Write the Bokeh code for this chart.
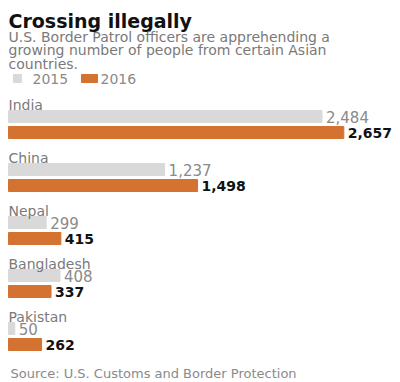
from bokeh.plotting import figure
from bokeh.models import Range1d, ColumnDataSource
from bokeh.core.properties import value
from bokeh.embed import file_html
from bokeh.resources import INLINE

# ---- data ----
countries = ["India", "China", "Nepal", "Bangladesh", "Pakistan"]
values_2015 = [2484, 1237, 299, 408, 50]
values_2016 = [2657, 1498, 415, 337, 262]
years = ["2015", "2016"]
title_text = "Crossing illegally"
subtitle_lines = [
    "U.S. Border Patrol officers are apprehending a",
    "growing number of people from certain Asian",
    "countries.",
]
source_text = "Source: U.S. Customs and Border Protection"

# ---- style / layout ----
W, H = 400, 382
PX_PER_UNIT = 0.1262
LEFT = 8
FONT = "DejaVu Sans"
GRAY = "#d9d9d9"
ORANGE = "#d37231"
LABEL_GRAY = "#7a7a7a"
VALUE_GRAY = "#8a8a8a"
GROUP_TOP0 = 110
GROUP_STEP = 53
BAR_H = 12
BAR_GAP = 4

p = figure(width=W, height=H, output_backend="svg", toolbar_location=None,
           x_range=Range1d(-LEFT / PX_PER_UNIT, (W - LEFT) / PX_PER_UNIT),
           y_range=Range1d(H, 0),
           min_border=0, min_border_left=0, min_border_right=0,
           min_border_top=0, min_border_bottom=0)
p.axis.visible = False
p.grid.visible = False
p.outline_line_color = None
p.background_fill_color = "white"
p.border_fill_color = "white"
p.extra_x_ranges = {"px": Range1d(0, W)}

tops = [GROUP_TOP0 + i * GROUP_STEP for i in range(len(countries))]
y15 = [t + BAR_H / 2 for t in tops]
y16 = [t + BAR_H + BAR_GAP + BAR_H / 2 for t in tops]
ylab = [t - 6 for t in tops]

src = ColumnDataSource(dict(
    country=countries, v15=values_2015, v16=values_2016,
    l15=[f"{v:,}" for v in values_2015], l16=[f"{v:,}" for v in values_2016],
    y15=y15, y16=y16, ylab=ylab, zero=[0] * len(countries)))

p.hbar(y="y15", left=0, right="v15", height=BAR_H, color=GRAY, source=src)
p.hbar(y="y16", left=0, right="v16", height=BAR_H, color=ORANGE, source=src)

p.text(x="v15", y="y15", text="l15", source=src, x_offset=4,
       text_font=value(FONT), text_font_size="15px", text_color=VALUE_GRAY,
       text_baseline="middle", text_align="left")
p.text(x="v16", y="y16", text="l16", source=src, x_offset=4,
       text_font=value(FONT), text_font_size="14px", text_font_style="bold",
       text_color="#111111", text_baseline="middle", text_align="left")
p.text(x="zero", y="ylab", text="country", source=src,
       text_font=value(FONT), text_font_size="14px", text_color=LABEL_GRAY,
       text_baseline="alphabetic", text_align="left")

# title / subtitle
p.text(x=[8], y=[20], text=[title_text], x_range_name="px",
       text_font=value(FONT), text_font_size="19px", text_font_style="bold",
       text_color="#111111", text_baseline="alphabetic")
p.text(x=[8, 8, 8], y=[36, 49.5, 63], text=subtitle_lines, x_range_name="px",
       text_font=value(FONT), text_font_size="14px", text_color=LABEL_GRAY,
       text_baseline="alphabetic")

# legend
p.quad(left=[13, 81], right=[21, 97], top=[74, 74], bottom=[82, 82],
       color=[GRAY, ORANGE], x_range_name="px")
p.text(x=[32, 100], y=[78, 78], text=years, x_range_name="px",
       text_font=value(FONT), text_font_size="14px", text_color=VALUE_GRAY,
       text_baseline="middle")

# source
p.text(x=[10], y=[373], text=[source_text], x_range_name="px",
       text_font=value(FONT), text_font_size="13px", text_color=VALUE_GRAY,
       text_baseline="alphabetic")

open("out.html", "w").write(file_html(p, INLINE))
